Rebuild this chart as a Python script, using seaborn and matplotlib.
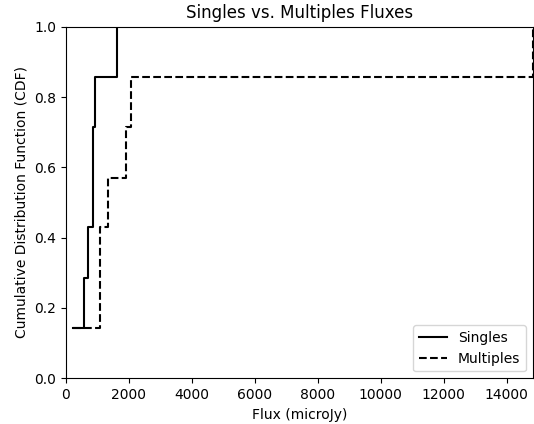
import matplotlib
matplotlib.use("Agg")
import matplotlib.pyplot as plt
import seaborn as sns

# Data
singles_flux = [220, 580, 710, 850, 850, 910, 1630]
singles_cdf = [0.143, 0.286, 0.429, 0.571, 0.714, 0.857, 1.0]
multiples_flux = [220, 1090, 1090, 1325, 1915, 2075, 14830]
multiples_cdf = [0.143, 0.286, 0.429, 0.571, 0.714, 0.857, 1.0]

x_ticks = [0, 2000, 4000, 6000, 8000, 10000, 12000, 14000]

plt.rcdefaults()
fig = plt.figure(figsize=(5.34, 4.24), dpi=100)
ax = fig.add_axes([66 / 534, 1 - 378.3 / 424, (532.7 - 66) / 534, (378.3 - 26.7) / 424])

sns.lineplot(x=singles_flux, y=singles_cdf, drawstyle="steps-post", estimator=None,
             sort=False, color="black", linewidth=1.5, label="Singles", ax=ax)
sns.lineplot(x=multiples_flux, y=multiples_cdf, drawstyle="steps-post", estimator=None,
             sort=False, color="black", linewidth=1.5, linestyle="--", label="Multiples", ax=ax)

ax.set_xlim(0, max(multiples_flux))
ax.set_ylim(0, 1)
ax.set_xticks(x_ticks)
ax.set_title("Singles vs. Multiples Fluxes")
ax.set_xlabel("Flux (microJy)")
ax.set_ylabel("Cumulative Distribution Function (CDF)")
ax.legend(loc="lower right")

fig.savefig("out.png", dpi=100)
